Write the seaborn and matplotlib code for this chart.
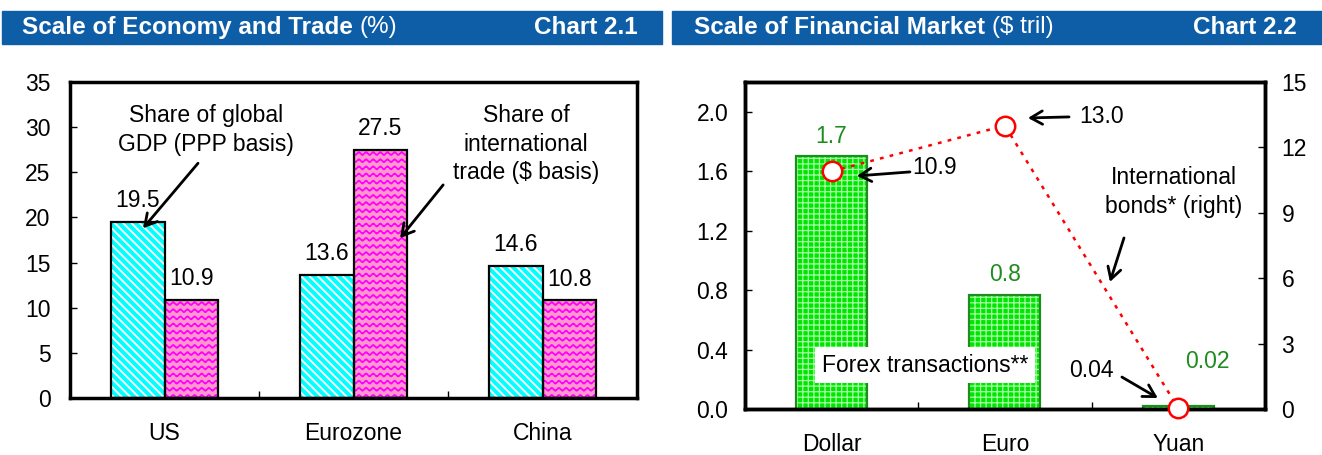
import warnings
import numpy as np
import pandas as pd
import matplotlib
matplotlib.use('Agg')
import matplotlib.pyplot as plt
import matplotlib.hatch as mhatch
from matplotlib.path import Path
from matplotlib.patches import Rectangle
from matplotlib.ticker import FixedLocator
import seaborn as sns

# chart 2.1 data
regions = ['US', 'Eurozone', 'China']
gdp_share = [19.5, 13.6, 14.6]
trade_share = [10.9, 27.5, 10.8]

# chart 2.2 data
currencies = ['Dollar', 'Euro', 'Yuan']
forex = [1.7, 0.77, 0.02]
forex_labels = ['1.7', '0.8', '0.02']
bonds = [10.9, 13.0, 0.04]
bond_labels = ['10.9', '13.0', '0.04']

blue = '#0E5EA7'
cyan = '#00FFFF'
pink = '#FF99CC'
green = '#00E600'
dark_green = '#1E8C1E'
fs = 16.5


# wavy horizontal hatch ('~') for the trade bars
class WavyHatch(mhatch.HatchPatternBase):
    def __init__(self, hatch, density):
        self.num_rows = hatch.count('~') * 7
        self.num_pts = 14 * 8 + 1
        self.num_vertices = self.num_rows * self.num_pts

    def set_vertices_and_codes(self, vertices, codes):
        xs = np.linspace(0, 1, self.num_pts)
        for i in range(self.num_rows):
            y0 = (i + 0.5) / self.num_rows
            seg = slice(i * self.num_pts, (i + 1) * self.num_pts)
            vertices[seg, 0] = xs
            vertices[seg, 1] = y0 + 0.015 * np.sin(2 * np.pi * 14 * xs)
            codes[seg] = Path.LINETO
            codes[i * self.num_pts] = Path.MOVETO


mhatch._hatch_types.append(WavyHatch)
warnings.filterwarnings('ignore', message='hatch must consist')

sns.set_theme(style='white')
plt.rcParams['font.family'] = ['Liberation Sans', 'DejaVu Sans']
plt.rcParams['text.color'] = 'black'
plt.rcParams['xtick.color'] = 'black'
plt.rcParams['ytick.color'] = 'black'
plt.rcParams['hatch.linewidth'] = 1.4

fig = plt.figure(figsize=(13.22, 4.55), dpi=100)
ax1 = fig.add_axes([0.053, 0.1253, 0.4289, 0.6945])
ax2 = fig.add_axes([0.5635, 0.1011, 0.3933, 0.7187])


def restyle(ax, bars, hatch, hatch_col, edge, hlw):
    # hatch in its own colour, then a separate outline on top
    for bar in bars:
        bar.set_hatch(hatch)
        bar.set_edgecolor(hatch_col)
        bar.set_linewidth(0)
        if hasattr(bar, 'set_hatch_linewidth'):
            bar.set_hatch_linewidth(hlw)
        ax.add_patch(Rectangle(bar.get_xy(), bar.get_width(), bar.get_height(),
                               fill=False, ec=edge, lw=1.6, zorder=bar.get_zorder() + 0.1))


def arrow(ax, tail, head):
    ax.annotate('', xy=head, xytext=tail,
                arrowprops=dict(arrowstyle='->,head_length=0.7,head_width=0.4',
                                lw=2, color='black', shrinkA=0, shrinkB=0))


def frame(ax):
    for s in ax.spines.values():
        s.set_linewidth(2.5)
        s.set_color('black')


# ---- chart 2.1 ----
df1 = pd.DataFrame({'region': regions * 2,
                    'share': gdp_share + trade_share,
                    'measure': ['gdp'] * 3 + ['trade'] * 3})
sns.barplot(data=df1, x='region', y='share', hue='measure', palette=[cyan, pink],
            width=0.57, saturation=1, errorbar=None, legend=False, ax=ax1)
restyle(ax1, ax1.containers[0], '\\\\\\\\', 'white', 'black', 1.4)
restyle(ax1, ax1.containers[1], '~~', '#FF00FF', 'black', 1.2)
for cont, vals in zip(ax1.containers, [gdp_share, trade_share]):
    ax1.bar_label(cont, labels=[f'{v:.1f}' for v in vals], padding=7, fontsize=fs)

ax1.set_xlim(-0.5, 2.5)
ax1.set_ylim(0, 35)
ax1.set_yticks(range(0, 36, 5))
ax1.set_xlabel('')
ax1.set_ylabel('')
ax1.xaxis.set_minor_locator(FixedLocator([0.5, 1.5]))
ax1.tick_params(axis='x', which='major', length=0, pad=17, labelsize=fs)
ax1.tick_params(axis='x', which='minor', direction='in', length=5, width=1, bottom=True)
ax1.tick_params(axis='y', direction='in', length=5, width=1, left=True, pad=14, labelsize=fs)
frame(ax1)

ax1.text(0.22, 29.7, 'Share of global\nGDP (PPP basis)', ha='center', va='center',
         fontsize=fs, linespacing=1.3)
arrow(ax1, (0.177, 26.0), (-0.114, 18.8))
ax1.text(1.913, 28.1, 'Share of\ninternational\ntrade ($ basis)', ha='center', va='center',
         fontsize=fs, linespacing=1.3)
arrow(ax1, (1.474, 23.6), (1.246, 17.7))

# ---- chart 2.2 ----
df2 = pd.DataFrame({'currency': currencies, 'forex': forex, 'pos': range(len(currencies)),
                    'bonds': bonds})
sns.barplot(data=df2, x='currency', y='forex', color=green, width=0.41, saturation=1,
            errorbar=None, ax=ax2)
restyle(ax2, ax2.containers[0], '+++', '#A8FFA8', dark_green, 0.9)
ax2.bar_label(ax2.containers[0], labels=forex_labels[:2] + [''], padding=6,
              fontsize=fs, color=dark_green)
ax2.annotate(forex_labels[2], xy=(2, forex[2]), xytext=(21, 32), textcoords='offset points',
             ha='center', va='center', fontsize=fs, color=dark_green)

ax2.set_xlim(-0.5, 2.5)
ax2.set_ylim(0, 2.2)
ax2.set_yticks(np.arange(0, 2.01, 0.4))
ax2.set_yticklabels([f'{v:.1f}' for v in np.arange(0, 2.01, 0.4)])
ax2.set_xlabel('')
ax2.set_ylabel('')
ax2.xaxis.set_minor_locator(FixedLocator([0.5, 1.5]))
ax2.tick_params(axis='x', which='major', length=0, pad=17, labelsize=fs)
ax2.tick_params(axis='x', which='minor', direction='in', length=5, width=1, bottom=True)
ax2.tick_params(axis='y', direction='in', length=5, width=1, left=True, pad=12, labelsize=fs)

ax3 = ax2.twinx()
sns.lineplot(data=df2, x='pos', y='bonds', ax=ax3, color='red', lw=1.8,
             linestyle=(0, (1.5, 2.5)), marker='o', markersize=14,
             markerfacecolor='white', markeredgecolor='red', markeredgewidth=1.8,
             clip_on=False, zorder=5)
ax3.set_ylim(0, 15)
ax3.set_yticks(range(0, 16, 3))
ax3.set_ylabel('')
ax3.set_xlabel('')
ax3.tick_params(axis='y', direction='in', length=5, width=1, right=True, pad=12, labelsize=fs)
ax2.set_xlim(-0.5, 2.5)
frame(ax2)
frame(ax3)

ax2.text(0.596, 1.622, bond_labels[0], ha='center', va='center', fontsize=fs)
arrow(ax2, (0.452, 1.595), (0.146, 1.568))
ax2.text(1.56, 1.965, bond_labels[1], ha='center', va='center', fontsize=fs)
arrow(ax2, (1.37, 1.965), (1.133, 1.958))
ax2.text(1.976, 1.46, 'International\nbonds* (right)', ha='center', va='center',
         fontsize=fs, linespacing=1.3)
arrow(ax2, (1.687, 1.151), (1.606, 0.855))
ax2.text(0.538, 0.296, 'Forex transactions**', ha='center', va='center', fontsize=fs,
         zorder=6, bbox=dict(boxstyle='square,pad=0.3', fc='white', ec='none'))
ax2.text(1.496, 0.262, bond_labels[2], ha='center', va='center', fontsize=fs)
arrow(ax2, (1.675, 0.215), (1.882, 0.074))


# ---- header bars ----
def header(x0, x1, tx, title, unit, chart):
    fig.add_artist(Rectangle((x0, 0.9033), x1 - x0, 0.0725, transform=fig.transFigure,
                             color=blue, zorder=0))
    t = fig.text(tx, 0.9396, title, color='white', fontsize=17.5, fontweight='bold',
                 va='center')
    ax1.annotate(unit, xy=(1, 0.5), xycoords=t, xytext=(5, 0), textcoords='offset points',
                 va='center', color='white', fontsize=17.5, annotation_clip=False)
    fig.text(x1 - 0.019, 0.9396, chart, color='white', fontsize=17.5, fontweight='bold',
             va='center', ha='right')


header(0.0015, 0.501, 0.0166, 'Scale of Economy and Trade', '(%)', 'Chart 2.1')
header(0.5083, 1.0, 0.525, 'Scale of Financial Market', '($ tril)', 'Chart 2.2')

fig.savefig('out.png', dpi=100)
